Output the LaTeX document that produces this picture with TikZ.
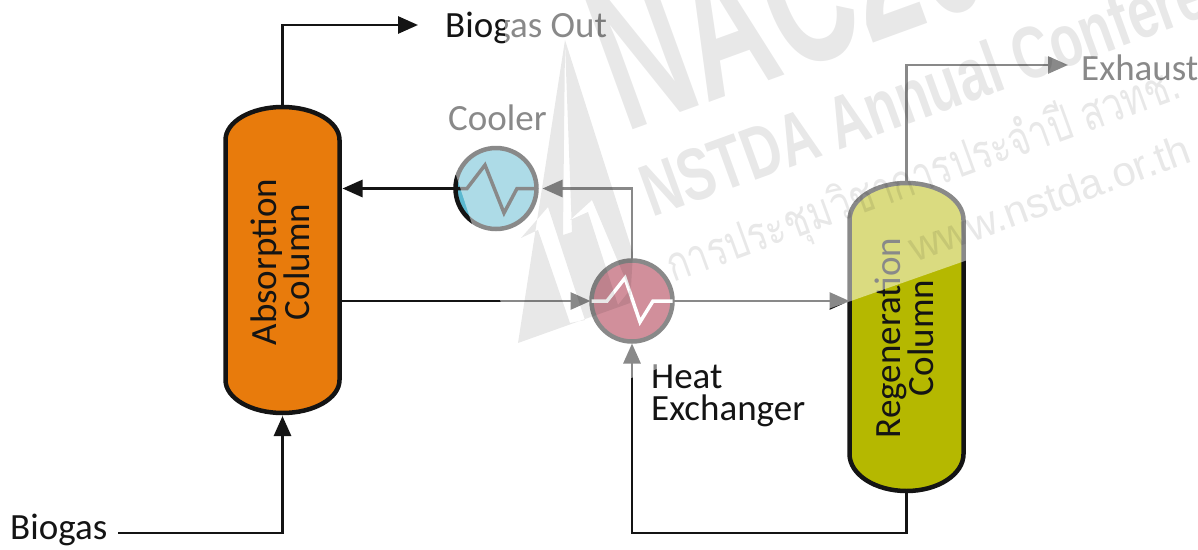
\documentclass[tikz,border=0pt]{standalone}
\usepackage{fontspec}
\usepackage{graphicx}
\setmainfont{Carlito}
\newfontfamily\thaifont[Script=Thai]{Loma}
\newfontfamily\wmfont{Liberation Sans}
\usetikzlibrary{arrows.meta,calc}
\definecolor{absfill}{HTML}{E87B0C}
\definecolor{regfill}{HTML}{B5B800}
\definecolor{coolfill}{HTML}{5BB8D0}
\definecolor{heatfill}{HTML}{A31F38}
\definecolor{inkline}{HTML}{141414}
\tikzset{
  x=1pt,y=-1pt,
  flow/.style={line width=2.8pt,draw=inkline,-{Triangle[length=20pt,width=17pt]}},
  vessel/.style={rectangle,minimum width=114pt,inner sep=0pt,outer sep=0pt},
  vesselline/.style={line width=4.5pt,draw=inkline},
  exch/.style={circle,minimum size=81pt,inner sep=0pt,outer sep=0pt,line width=4.5pt,draw=inkline},
  zig/.style={line width=3.5pt,line join=miter},
  lab/.style={font=\fontsize{37}{37}\selectfont,text=inkline,inner sep=0pt,anchor=west},
  collab/.style={font=\fontsize{37}{33}\selectfont,text=inkline,inner sep=0pt,align=center,rotate=90},
  wm/.style={rotate=20,anchor=base west,inner sep=0pt,text=black,text opacity=.09},
}
\begin{document}
\begin{tikzpicture}
\useasboundingbox (0,0) rectangle (1198,549);
\fill[white] (0,0) rectangle (1198,549);
% vessels
\node[vessel,minimum height=306pt] (abs) at (282.5,260) {};
\node[vessel,minimum height=308pt] (reg) at (906.5,337) {};
\draw[vesselline,fill=absfill] (abs.south west) ++(0,-33) -- ($(abs.north west)+(0,33)$)
  arc[start angle=180,end angle=0,x radius=57pt,y radius=33pt] -- ($(abs.south east)+(0,-33)$)
  arc[start angle=0,end angle=-180,x radius=57pt,y radius=33pt] -- cycle;
\draw[vesselline,fill=regfill] (reg.south west) ++(0,-37) -- ($(reg.north west)+(0,37)$)
  arc[start angle=180,end angle=0,x radius=57pt,y radius=37pt] -- ($(reg.south east)+(0,-37)$)
  arc[start angle=0,end angle=-180,x radius=57pt,y radius=37pt] -- cycle;
\node[collab] (abslab) at (280,262) {Absorption\\Column};
\node[collab] (reglab) at (904,338) {Regeneration\\Column};
% exchangers
\node[exch,fill=coolfill] (cool) at (496,188.5) {};
\node[exch,fill=heatfill] (heat) at (632,301) {};
\draw[zig,draw=inkline] (cool.west) -- (467,188.5) -- (485,165) -- (504,213) -- (517,188.5) -- (cool.east);
\draw[zig,draw=white] (heat.west) -- (607,301) -- (625,278) -- (640,322) -- (653,301) -- (heat.east);
% labels
\node[lab] (biogasout) at (445,28) {Biogas Out};
\node[lab] (biogas) at (10,530) {Biogas};
\node[lab] (cooler) at (448,118) {Cooler};
\node[lab] (heatlab) at (651,377) {Heat};
\node[lab] (exlab) at (651,411) {Exchanger};
\node[lab] (exhaust) at (1081,68) {Exhaust};
% connector ends
\coordinate (outcorner) at (abs.north |- 0,25);
\coordinate (outend) at (418,25);
\coordinate (exhend) at (1068,65);
\coordinate (feedstart) at (118,533);
\coordinate (retcorner) at (907,533);
\draw[flow] (abs.north) -- (outcorner) -- (outend);
\draw[flow] (feedstart) -| ($(abs.south)+(0,3)$);
\draw[flow] (cool.west) -- ($(abs.east |- cool.west)+(3,0)$);
\draw[flow] (heat.north) |- ($(cool.east)+(6,0)$);
\draw[flow] (abs.east |- heat.west) -- ($(heat.west)+(-1,0)$);
\draw[flow] (heat.east) -- (reg.west |- heat.east);
\draw[flow] (reg.north) |- (exhend);
\draw[flow] (reg.south) |- (heat.south |- retcorner) -- ($(heat.south)+(0,2)$);
% wash of the watermark
\fill[white,fill opacity=.5] (505,0) -- (505,47) -- (440,100) -- (440,170) -- (456,175) -- (473,227) -- (500,300) -- (540,410) -- (848,302) -- (1198,179) -- (1198,0) -- cycle;
% watermark logo
\fill[black,fill opacity=.09,even odd rule] (565,40) -- (518,343) -- (630,303) -- (633,253) -- cycle
  (565,43) -- (563,235) -- (572,232) -- cycle
  (521,238) -- (548,207) -- (585,320) -- (570,323) -- (538,230) -- cycle
  (570,220) -- (592,200) -- (630,290) -- (618,305) -- (588,212) -- cycle;
% watermark text
\node[wm,font=\wmfont\bfseries\fontsize{200}{200}\selectfont] (wm1) at (625,133) {\scalebox{.6}[1]{NAC20}};
\node[wm,font=\wmfont\bfseries\fontsize{74}{74}\selectfont] (wm2) at (652,218) {\scalebox{.72}[1]{NSTDA Annual Conference}};
\node[wm,font=\thaifont\fontsize{48}{48}\selectfont] (wm3) at (673,283) {\scalebox{.76}[1]{การประชุมวิชาการประจำปี สวทช.}};
\node[wm,font=\wmfont\fontsize{42}{42}\selectfont] (wm4) at (915,263) {www.nstda.or.th};
\end{tikzpicture}
\end{document}
